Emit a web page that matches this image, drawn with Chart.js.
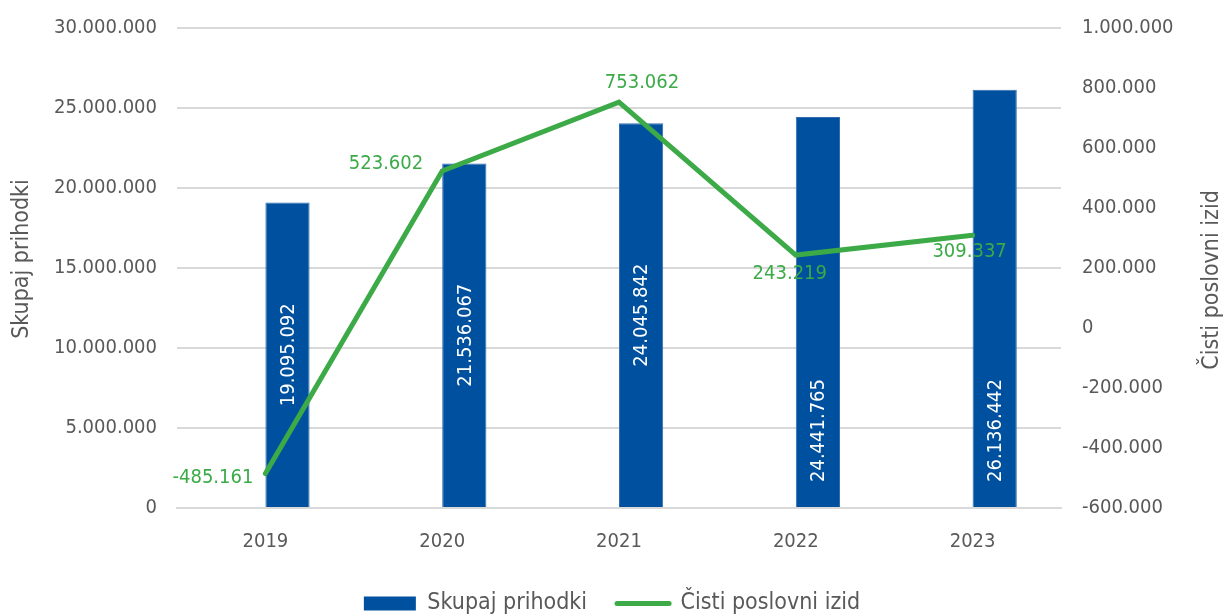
<!DOCTYPE html>
<html><head><meta charset="utf-8">
<script src="https://cdn.jsdelivr.net/npm/chart.js@4.4.1/dist/chart.umd.min.js"></script>
<style>html,body{margin:0;padding:0;background:#fff}#wrap{width:1224px;height:615px;position:relative}</style>
</head><body><div id="wrap"><canvas id="c" width="1224" height="615"></canvas></div>
<script>
const categories = ['2019', '2020', '2021', '2022', '2023'];
const revenue = [19095092, 21536067, 24045842, 24441765, 26136442];
const netResult = [-485161, 523602, 753062, 243219, 309337];
const leftTicks = [0, 5000000, 10000000, 15000000, 20000000, 25000000, 30000000];
const rightTicks = [-600000, -400000, -200000, 0, 200000, 400000, 600000, 800000, 1000000];
const seriesNames = ['Skupaj prihodki', 'Čisti poslovni izid'];
const axisTitles = ['Skupaj prihodki', 'Čisti poslovni izid'];

const FONT = "'DejaVu Sans Condensed','DejaVu Sans',sans-serif";
const BLUE = '#0050A0';
const GREEN = '#3BAA47';
const GREY = '#595959';

function fmt(v) {
  const s = Math.abs(Math.round(v)).toString().replace(/\B(?=(\d{3})+(?!\d))/g, '.');
  return (v < 0 ? '-' : '') + s;
}

const barLabelAnchor = ['center', 'center', 'center', 'base', 'base'];
const lineLabelPlace = [
  { dx: -12, dy: 4, align: 'right' },
  { dx: -19, dy: -7, align: 'right' },
  { dx: 23, dy: -19, align: 'center' },
  { dx: -6, dy: 19, align: 'center' },
  { dx: -3, dy: 17, align: 'center' }
];

const labelPlugin = {
  id: 'labels',
  beforeUpdate(chart) {
    if (chart.legend && !chart.legend._wrapped) {
      const lg = chart.legend;
      const orig = lg.fit.bind(lg);
      lg.fit = function () { orig(); this.height = 53; };
      lg._wrapped = true;
    }
  },
  afterDatasetsDraw(chart) {
    const ctx = chart.ctx;
    const barMeta = chart.getDatasetMeta(1);
    ctx.save();
    ctx.font = '20px ' + FONT;
    ctx.fillStyle = '#FFFFFF';
    barMeta.data.forEach((bar, i) => {
      const p = bar.getProps(['x', 'y', 'base'], true);
      ctx.save();
      if (barLabelAnchor[i] === 'center') {
        ctx.translate(p.x, (p.y + p.base) / 2);
        ctx.textAlign = 'center';
      } else {
        ctx.translate(p.x, p.base - 25);
        ctx.textAlign = 'left';
      }
      ctx.rotate(-Math.PI / 2);
      ctx.textBaseline = 'middle';
      ctx.fillText(fmt(revenue[i]), 0, 1);
      ctx.restore();
    });
    const lineMeta = chart.getDatasetMeta(2);
    ctx.fillStyle = GREEN;
    ctx.textBaseline = 'middle';
    lineMeta.data.forEach((pt, i) => {
      const pl = lineLabelPlace[i];
      ctx.textAlign = pl.align;
      ctx.fillText(fmt(netResult[i]), pt.x + pl.dx, pt.y + pl.dy);
    });
    ctx.restore();
  },
  afterDraw(chart) {
    const ctx = chart.ctx;
    const titles = [[axisTitles[0], 22, 259], [axisTitles[1], 1212, 280]];
    titles.forEach(([t, x, y]) => {
      ctx.save();
      ctx.font = '23px ' + FONT;
      ctx.fillStyle = GREY;
      ctx.textAlign = 'center';
      ctx.textBaseline = 'middle';
      ctx.translate(x, y);
      ctx.rotate(-Math.PI / 2);
      ctx.fillText(t, 0, 0);
      ctx.restore();
    });
  }
};

new Chart(document.getElementById('c'), {
  data: {
    labels: categories,
    datasets: [
      { type: 'bar', label: '_spacer', data: [], yAxisID: 'y', order: 2 },
      { type: 'bar', label: seriesNames[0], data: revenue, yAxisID: 'y', backgroundColor: BLUE,
        borderColor: '#2F6DB0', borderWidth: 1, categoryPercentage: 0.5, barPercentage: 1, order: 3 },
      { type: 'line', label: seriesNames[1], data: netResult, yAxisID: 'y2', borderColor: GREEN,
        backgroundColor: GREEN, borderWidth: 5, pointRadius: 0, tension: 0, borderCapStyle: 'round', order: 1 }
    ]
  },
  options: {
    responsive: false,
    animation: false,
    devicePixelRatio: 1,
    layout: { padding: { top: 28, left: 0, right: 0, bottom: 0 } },
    datasets: { bar: { categoryPercentage: 0.5, barPercentage: 1 } },
    plugins: {
      tooltip: { enabled: false },
      legend: {
        position: 'bottom',
        labels: {
          usePointStyle: true,
          pointStyleWidth: 52,
          boxHeight: 14,
          padding: 30,
          color: GREY,
          font: { family: FONT, size: 23 },
          generateLabels() {
            return [
              { text: seriesNames[0], fillStyle: BLUE, strokeStyle: BLUE, lineWidth: 0, pointStyle: 'rect', datasetIndex: 1, hidden: false, fontColor: GREY },
              { text: seriesNames[1], fillStyle: GREEN, strokeStyle: GREEN, lineWidth: 5, pointStyle: 'line', datasetIndex: 2, hidden: false, fontColor: GREY, lineCap: 'round' }
            ];
          }
        }
      }
    },
    scales: {
      x: {
        grid: { display: false },
        border: { display: true, color: '#D9D9D9', width: 2 },
        ticks: { color: GREY, font: { family: FONT, size: 20 }, padding: 14, maxRotation: 0 },
        afterFit(s) { s.height = 54; s.paddingLeft = 0; s.paddingRight = 0; }
      },
      y: {
        position: 'left', min: leftTicks[0], max: leftTicks[leftTicks.length - 1],
        afterBuildTicks(s) { s.ticks = leftTicks.map(v => ({ value: v })); },
        grid: { color: '#D9D9D9', lineWidth: 2, drawTicks: false },
        border: { display: false },
        ticks: { color: GREY, font: { family: FONT, size: 20 }, padding: 20, callback: v => fmt(v) },
        afterFit(s) { s.width = 177; s.paddingTop = 0; s.paddingBottom = 0; }
      },
      y2: {
        position: 'right', min: rightTicks[0], max: rightTicks[rightTicks.length - 1],
        afterBuildTicks(s) { s.ticks = rightTicks.map(v => ({ value: v })); },
        grid: { display: false, drawTicks: false },
        border: { display: false },
        ticks: { color: GREY, font: { family: FONT, size: 20 }, padding: 21, callback: v => fmt(v) },
        afterFit(s) { s.width = 163; s.paddingTop = 0; s.paddingBottom = 0; }
      }
    }
  },
  plugins: [labelPlugin]
});
</script></body></html>
